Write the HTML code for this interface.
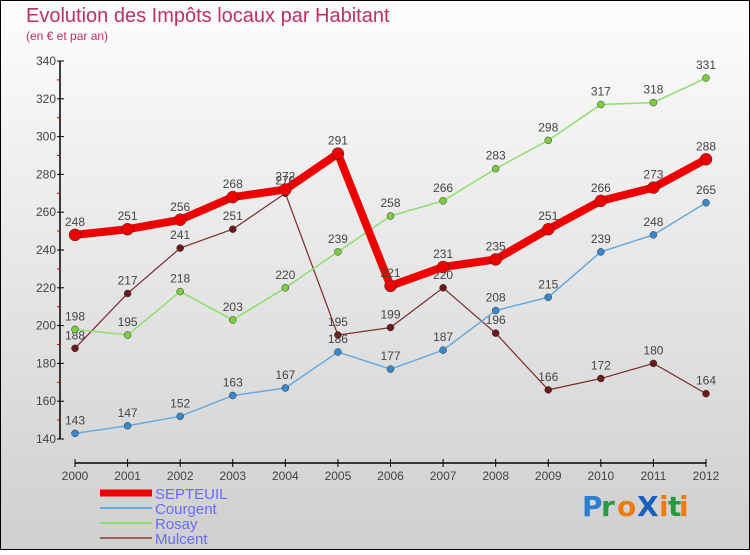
<!DOCTYPE html>
<html><head><meta charset="utf-8"><style>
html,body{margin:0;padding:0}
body{width:750px;height:550px;overflow:hidden;font-family:"Liberation Sans",sans-serif}
</style></head><body>
<svg width="750" height="550" xmlns="http://www.w3.org/2000/svg">
<defs><linearGradient id="bg" x1="0" y1="0" x2="0" y2="1"><stop offset="0" stop-color="#fdfdfd"/><stop offset="1" stop-color="#cfcfcf"/></linearGradient></defs>
<rect x="0.5" y="0.5" width="749" height="549" fill="url(#bg)" stroke="#000"/>
<text x="26" y="22" font-size="20" fill="#c03060">Evolution des Impôts locaux par Habitant</text>
<text x="26" y="40" font-size="12" fill="#c03060">(en € et par an)</text>
<g id="axes"></g>
<g id="series"></g>
<g id="legend"></g>
<g font-size="28" font-weight="bold" font-family="'DejaVu Sans',sans-serif">
<text x="582" y="516" fill="#2a7fd0">P</text><text x="601" y="516" fill="#2a9a40">r</text><text x="617" y="516" fill="#ee7a10">o</text><text x="637" y="516" fill="#1a60c0">X</text><text x="659" y="516" fill="#ee7a10">i</text><text x="668" y="516" fill="#2a9a40">t</text><text x="679" y="516" fill="#ee7a10">i</text>
</g>
</svg>
<script>
const years=[2000,2001,2002,2003,2004,2005,2006,2007,2008,2009,2010,2011,2012];
const septeuil=[248,251,256,268,272,291,221,231,235,251,266,273,288];
const courgent=[143,147,152,163,167,186,177,187,208,215,239,248,265];
const rosay=[198,195,218,203,220,239,258,266,283,298,317,318,331];
const mulcent=[188,217,241,251,270,195,199,220,196,166,172,180,164];
const yTicks=[140,160,180,200,220,240,260,280,300,320,340];
const NS="http://www.w3.org/2000/svg";
const X=i=>75+i*(631/12);
const Y=v=>439-(v-140)*1.89;
function mk(t,a,p){const e=document.createElementNS(NS,t);for(const k in a)e.setAttribute(k,a[k]);p.appendChild(e);return e;}
const ax=document.getElementById('axes');
const yl=mk('line',{x1:60,y1:61,x2:60,y2:439,stroke:'#000','stroke-width':1.5},ax);


yTicks.forEach(v=>{
 mk('line',{x1:57,x2:64,y1:Y(v),y2:Y(v),stroke:'#000'},ax);
 if(v<340)mk('line',{x1:57,x2:60,y1:Y(v+10),y2:Y(v+10),stroke:'#d00'},ax);
 const t=mk('text',{x:56,y:Y(v)+4,'text-anchor':'end','font-size':12,fill:'#444'},ax);t.textContent=v;
 
 
});
const xl=mk('line',{x1:75,y1:463,x2:706,y2:463,stroke:'#000','stroke-width':1.5},ax);


years.forEach((y,i)=>{
 mk('line',{x1:X(i),x2:X(i),y1:459,y2:467,stroke:'#000'},ax);
 const t=mk('text',{x:X(i),y:480,'text-anchor':'middle','font-size':12,fill:'#444'},ax);t.textContent=y;
 
 
});
const sg=document.getElementById('series');
const defs=[
 {n:'mulcent',d:mulcent,c:'#7a2a2a',w:1.2,r:3.5,f:'#6a1a1a'},
 {n:'rosay',d:rosay,c:'#90dd70',w:1.5,r:3.5,f:'#80cc40'},
 {n:'courgent',d:courgent,c:'#6aa8dd',w:1.5,r:3.5,f:'#3a88cc'},
 {n:'septeuil',d:septeuil,c:'#ee0000',w:8,r:6,f:'#ee0000'}];
defs.forEach(s=>{
 const g=mk('g',{},sg);
 
 
 const pl=mk('polyline',{points:s.d.map((v,i)=>X(i)+','+Y(v)).join(' '),fill:'none',stroke:s.c,'stroke-width':s.w,'stroke-linejoin':'round'},g);
 
 
 s.d.forEach((v,i)=>{
  const c=mk('circle',{cx:X(i),cy:Y(v),r:s.r,fill:s.f,stroke:'#333','stroke-width':0.5},g);
  
  
  const t=mk('text',{x:X(i),y:Y(v)-9,'text-anchor':'middle','font-size':12,fill:'#444'},g);t.textContent=v;
  
  
 });
});
const lg=document.getElementById('legend');
[['SEPTEUIL','#ee0000',7],['Courgent','#6aa8dd',2],['Rosay','#90dd70',2],['Mulcent','#9a6060',2]].forEach((e,i)=>{
 const y=493+i*15;
 const g=mk('g',{},lg);
 
 
 mk('line',{x1:100,x2:152,y1:y,y2:y,stroke:e[1],'stroke-width':e[2]},g);
 const t=mk('text',{x:155,y:y+6,'font-size':15,fill:'#6a6aff'},g);t.textContent=e[0];
});
</script>
</body></html>
